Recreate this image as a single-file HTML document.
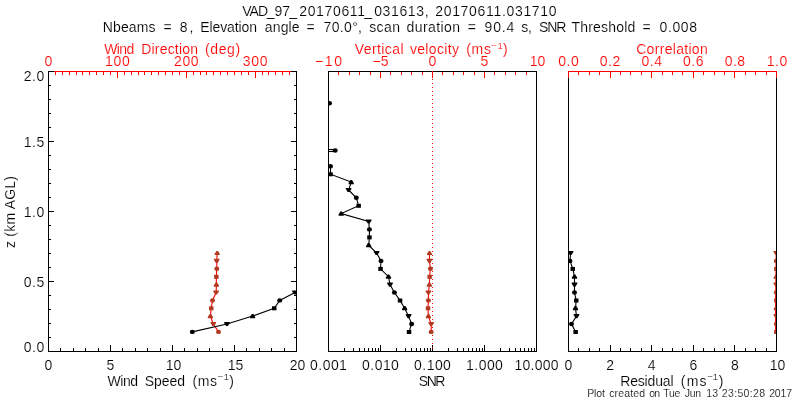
<!DOCTYPE html>
<html><head><meta charset="utf-8"><title>VAD plot</title>
<style>html,body{margin:0;padding:0;background:#fff;}svg{display:block}text{font-family:"Liberation Sans", sans-serif;stroke:#fff;stroke-width:0.15px;}</style>
</head><body>
<svg width="800" height="400" viewBox="0 0 800 400">
<defs>
<clipPath id="c1"><rect x="48" y="71" width="249" height="281"/></clipPath>
<clipPath id="c2"><rect x="328" y="71" width="209" height="281"/></clipPath>
<clipPath id="c3"><rect x="568" y="71" width="209" height="281"/></clipPath>
</defs>
<rect width="800" height="400" fill="#fff"/>
<rect x="48" y="71" width="1" height="281" fill="#000000" shape-rendering="crispEdges"/>
<rect x="296" y="71" width="1" height="281" fill="#000000" shape-rendering="crispEdges"/>
<rect x="48" y="351" width="249" height="1" fill="#000000" shape-rendering="crispEdges"/>
<rect x="48" y="71" width="249" height="1" fill="#ff0000" shape-rendering="crispEdges"/>
<rect x="48" y="72" width="1" height="6" fill="#ff0000" shape-rendering="crispEdges"/>
<rect x="55" y="72" width="1" height="3" fill="#ff0000" shape-rendering="crispEdges"/>
<rect x="62" y="72" width="1" height="3" fill="#ff0000" shape-rendering="crispEdges"/>
<rect x="69" y="72" width="1" height="3" fill="#ff0000" shape-rendering="crispEdges"/>
<rect x="76" y="72" width="1" height="3" fill="#ff0000" shape-rendering="crispEdges"/>
<rect x="82" y="72" width="1" height="3" fill="#ff0000" shape-rendering="crispEdges"/>
<rect x="89" y="72" width="1" height="3" fill="#ff0000" shape-rendering="crispEdges"/>
<rect x="96" y="72" width="1" height="3" fill="#ff0000" shape-rendering="crispEdges"/>
<rect x="103" y="72" width="1" height="3" fill="#ff0000" shape-rendering="crispEdges"/>
<rect x="110" y="72" width="1" height="3" fill="#ff0000" shape-rendering="crispEdges"/>
<rect x="117" y="72" width="1" height="6" fill="#ff0000" shape-rendering="crispEdges"/>
<rect x="124" y="72" width="1" height="3" fill="#ff0000" shape-rendering="crispEdges"/>
<rect x="131" y="72" width="1" height="3" fill="#ff0000" shape-rendering="crispEdges"/>
<rect x="138" y="72" width="1" height="3" fill="#ff0000" shape-rendering="crispEdges"/>
<rect x="144" y="72" width="1" height="3" fill="#ff0000" shape-rendering="crispEdges"/>
<rect x="151" y="72" width="1" height="3" fill="#ff0000" shape-rendering="crispEdges"/>
<rect x="158" y="72" width="1" height="3" fill="#ff0000" shape-rendering="crispEdges"/>
<rect x="165" y="72" width="1" height="3" fill="#ff0000" shape-rendering="crispEdges"/>
<rect x="172" y="72" width="1" height="3" fill="#ff0000" shape-rendering="crispEdges"/>
<rect x="179" y="72" width="1" height="3" fill="#ff0000" shape-rendering="crispEdges"/>
<rect x="186" y="72" width="1" height="6" fill="#ff0000" shape-rendering="crispEdges"/>
<rect x="193" y="72" width="1" height="3" fill="#ff0000" shape-rendering="crispEdges"/>
<rect x="200" y="72" width="1" height="3" fill="#ff0000" shape-rendering="crispEdges"/>
<rect x="206" y="72" width="1" height="3" fill="#ff0000" shape-rendering="crispEdges"/>
<rect x="213" y="72" width="1" height="3" fill="#ff0000" shape-rendering="crispEdges"/>
<rect x="220" y="72" width="1" height="3" fill="#ff0000" shape-rendering="crispEdges"/>
<rect x="227" y="72" width="1" height="3" fill="#ff0000" shape-rendering="crispEdges"/>
<rect x="234" y="72" width="1" height="3" fill="#ff0000" shape-rendering="crispEdges"/>
<rect x="241" y="72" width="1" height="3" fill="#ff0000" shape-rendering="crispEdges"/>
<rect x="248" y="72" width="1" height="3" fill="#ff0000" shape-rendering="crispEdges"/>
<rect x="255" y="72" width="1" height="6" fill="#ff0000" shape-rendering="crispEdges"/>
<rect x="262" y="72" width="1" height="3" fill="#ff0000" shape-rendering="crispEdges"/>
<rect x="268" y="72" width="1" height="3" fill="#ff0000" shape-rendering="crispEdges"/>
<rect x="275" y="72" width="1" height="3" fill="#ff0000" shape-rendering="crispEdges"/>
<rect x="282" y="72" width="1" height="3" fill="#ff0000" shape-rendering="crispEdges"/>
<rect x="289" y="72" width="1" height="3" fill="#ff0000" shape-rendering="crispEdges"/>
<rect x="296" y="72" width="1" height="3" fill="#ff0000" shape-rendering="crispEdges"/>
<rect x="48" y="345" width="1" height="6" fill="#000000" shape-rendering="crispEdges"/>
<rect x="60" y="348" width="1" height="3" fill="#000000" shape-rendering="crispEdges"/>
<rect x="73" y="348" width="1" height="3" fill="#000000" shape-rendering="crispEdges"/>
<rect x="85" y="348" width="1" height="3" fill="#000000" shape-rendering="crispEdges"/>
<rect x="98" y="348" width="1" height="3" fill="#000000" shape-rendering="crispEdges"/>
<rect x="110" y="345" width="1" height="6" fill="#000000" shape-rendering="crispEdges"/>
<rect x="122" y="348" width="1" height="3" fill="#000000" shape-rendering="crispEdges"/>
<rect x="135" y="348" width="1" height="3" fill="#000000" shape-rendering="crispEdges"/>
<rect x="147" y="348" width="1" height="3" fill="#000000" shape-rendering="crispEdges"/>
<rect x="160" y="348" width="1" height="3" fill="#000000" shape-rendering="crispEdges"/>
<rect x="172" y="345" width="1" height="6" fill="#000000" shape-rendering="crispEdges"/>
<rect x="184" y="348" width="1" height="3" fill="#000000" shape-rendering="crispEdges"/>
<rect x="197" y="348" width="1" height="3" fill="#000000" shape-rendering="crispEdges"/>
<rect x="209" y="348" width="1" height="3" fill="#000000" shape-rendering="crispEdges"/>
<rect x="222" y="348" width="1" height="3" fill="#000000" shape-rendering="crispEdges"/>
<rect x="234" y="345" width="1" height="6" fill="#000000" shape-rendering="crispEdges"/>
<rect x="246" y="348" width="1" height="3" fill="#000000" shape-rendering="crispEdges"/>
<rect x="259" y="348" width="1" height="3" fill="#000000" shape-rendering="crispEdges"/>
<rect x="271" y="348" width="1" height="3" fill="#000000" shape-rendering="crispEdges"/>
<rect x="284" y="348" width="1" height="3" fill="#000000" shape-rendering="crispEdges"/>
<rect x="296" y="345" width="1" height="6" fill="#000000" shape-rendering="crispEdges"/>
<rect x="49" y="351" width="5" height="1" fill="#000000" shape-rendering="crispEdges"/>
<rect x="291" y="351" width="5" height="1" fill="#000000" shape-rendering="crispEdges"/>
<rect x="49" y="337" width="2" height="1" fill="#000000" shape-rendering="crispEdges"/>
<rect x="294" y="337" width="2" height="1" fill="#000000" shape-rendering="crispEdges"/>
<rect x="49" y="323" width="2" height="1" fill="#000000" shape-rendering="crispEdges"/>
<rect x="294" y="323" width="2" height="1" fill="#000000" shape-rendering="crispEdges"/>
<rect x="49" y="309" width="2" height="1" fill="#000000" shape-rendering="crispEdges"/>
<rect x="294" y="309" width="2" height="1" fill="#000000" shape-rendering="crispEdges"/>
<rect x="49" y="295" width="2" height="1" fill="#000000" shape-rendering="crispEdges"/>
<rect x="294" y="295" width="2" height="1" fill="#000000" shape-rendering="crispEdges"/>
<rect x="49" y="281" width="5" height="1" fill="#000000" shape-rendering="crispEdges"/>
<rect x="291" y="281" width="5" height="1" fill="#000000" shape-rendering="crispEdges"/>
<rect x="49" y="267" width="2" height="1" fill="#000000" shape-rendering="crispEdges"/>
<rect x="294" y="267" width="2" height="1" fill="#000000" shape-rendering="crispEdges"/>
<rect x="49" y="253" width="2" height="1" fill="#000000" shape-rendering="crispEdges"/>
<rect x="294" y="253" width="2" height="1" fill="#000000" shape-rendering="crispEdges"/>
<rect x="49" y="239" width="2" height="1" fill="#000000" shape-rendering="crispEdges"/>
<rect x="294" y="239" width="2" height="1" fill="#000000" shape-rendering="crispEdges"/>
<rect x="49" y="225" width="2" height="1" fill="#000000" shape-rendering="crispEdges"/>
<rect x="294" y="225" width="2" height="1" fill="#000000" shape-rendering="crispEdges"/>
<rect x="49" y="211" width="5" height="1" fill="#000000" shape-rendering="crispEdges"/>
<rect x="291" y="211" width="5" height="1" fill="#000000" shape-rendering="crispEdges"/>
<rect x="49" y="197" width="2" height="1" fill="#000000" shape-rendering="crispEdges"/>
<rect x="294" y="197" width="2" height="1" fill="#000000" shape-rendering="crispEdges"/>
<rect x="49" y="183" width="2" height="1" fill="#000000" shape-rendering="crispEdges"/>
<rect x="294" y="183" width="2" height="1" fill="#000000" shape-rendering="crispEdges"/>
<rect x="49" y="169" width="2" height="1" fill="#000000" shape-rendering="crispEdges"/>
<rect x="294" y="169" width="2" height="1" fill="#000000" shape-rendering="crispEdges"/>
<rect x="49" y="155" width="2" height="1" fill="#000000" shape-rendering="crispEdges"/>
<rect x="294" y="155" width="2" height="1" fill="#000000" shape-rendering="crispEdges"/>
<rect x="49" y="141" width="5" height="1" fill="#000000" shape-rendering="crispEdges"/>
<rect x="291" y="141" width="5" height="1" fill="#000000" shape-rendering="crispEdges"/>
<rect x="49" y="127" width="2" height="1" fill="#000000" shape-rendering="crispEdges"/>
<rect x="294" y="127" width="2" height="1" fill="#000000" shape-rendering="crispEdges"/>
<rect x="49" y="113" width="2" height="1" fill="#000000" shape-rendering="crispEdges"/>
<rect x="294" y="113" width="2" height="1" fill="#000000" shape-rendering="crispEdges"/>
<rect x="49" y="99" width="2" height="1" fill="#000000" shape-rendering="crispEdges"/>
<rect x="294" y="99" width="2" height="1" fill="#000000" shape-rendering="crispEdges"/>
<rect x="49" y="85" width="2" height="1" fill="#000000" shape-rendering="crispEdges"/>
<rect x="294" y="85" width="2" height="1" fill="#000000" shape-rendering="crispEdges"/>
<rect x="49" y="71" width="5" height="1" fill="#000000" shape-rendering="crispEdges"/>
<rect x="291" y="71" width="5" height="1" fill="#000000" shape-rendering="crispEdges"/>
<rect x="48" y="71" width="1" height="281" fill="#000000" shape-rendering="crispEdges"/>
<rect x="296" y="71" width="1" height="281" fill="#000000" shape-rendering="crispEdges"/>
<rect x="328" y="71" width="1" height="281" fill="#000000" shape-rendering="crispEdges"/>
<rect x="536" y="71" width="1" height="281" fill="#000000" shape-rendering="crispEdges"/>
<rect x="328" y="351" width="209" height="1" fill="#000000" shape-rendering="crispEdges"/>
<rect x="328" y="71" width="209" height="1" fill="#000000" shape-rendering="crispEdges"/>
<rect x="328" y="72" width="1" height="6" fill="#ff0000" shape-rendering="crispEdges"/>
<rect x="338" y="72" width="1" height="3" fill="#ff0000" shape-rendering="crispEdges"/>
<rect x="349" y="72" width="1" height="3" fill="#ff0000" shape-rendering="crispEdges"/>
<rect x="359" y="72" width="1" height="3" fill="#ff0000" shape-rendering="crispEdges"/>
<rect x="370" y="72" width="1" height="3" fill="#ff0000" shape-rendering="crispEdges"/>
<rect x="380" y="72" width="1" height="6" fill="#ff0000" shape-rendering="crispEdges"/>
<rect x="390" y="72" width="1" height="3" fill="#ff0000" shape-rendering="crispEdges"/>
<rect x="401" y="72" width="1" height="3" fill="#ff0000" shape-rendering="crispEdges"/>
<rect x="411" y="72" width="1" height="3" fill="#ff0000" shape-rendering="crispEdges"/>
<rect x="422" y="72" width="1" height="3" fill="#ff0000" shape-rendering="crispEdges"/>
<rect x="432" y="72" width="1" height="6" fill="#ff0000" shape-rendering="crispEdges"/>
<rect x="442" y="72" width="1" height="3" fill="#ff0000" shape-rendering="crispEdges"/>
<rect x="453" y="72" width="1" height="3" fill="#ff0000" shape-rendering="crispEdges"/>
<rect x="463" y="72" width="1" height="3" fill="#ff0000" shape-rendering="crispEdges"/>
<rect x="474" y="72" width="1" height="3" fill="#ff0000" shape-rendering="crispEdges"/>
<rect x="484" y="72" width="1" height="6" fill="#ff0000" shape-rendering="crispEdges"/>
<rect x="494" y="72" width="1" height="3" fill="#ff0000" shape-rendering="crispEdges"/>
<rect x="505" y="72" width="1" height="3" fill="#ff0000" shape-rendering="crispEdges"/>
<rect x="515" y="72" width="1" height="3" fill="#ff0000" shape-rendering="crispEdges"/>
<rect x="526" y="72" width="1" height="3" fill="#ff0000" shape-rendering="crispEdges"/>
<rect x="536" y="72" width="1" height="6" fill="#ff0000" shape-rendering="crispEdges"/>
<rect x="328" y="71" width="209" height="1" fill="#000000" shape-rendering="crispEdges"/>
<rect x="328" y="345" width="1" height="6" fill="#000000" shape-rendering="crispEdges"/>
<rect x="344" y="348" width="1" height="3" fill="#000000" shape-rendering="crispEdges"/>
<rect x="353" y="348" width="1" height="3" fill="#000000" shape-rendering="crispEdges"/>
<rect x="359" y="348" width="1" height="3" fill="#000000" shape-rendering="crispEdges"/>
<rect x="364" y="348" width="1" height="3" fill="#000000" shape-rendering="crispEdges"/>
<rect x="368" y="348" width="1" height="3" fill="#000000" shape-rendering="crispEdges"/>
<rect x="372" y="348" width="1" height="3" fill="#000000" shape-rendering="crispEdges"/>
<rect x="375" y="348" width="1" height="3" fill="#000000" shape-rendering="crispEdges"/>
<rect x="378" y="348" width="1" height="3" fill="#000000" shape-rendering="crispEdges"/>
<rect x="380" y="345" width="1" height="6" fill="#000000" shape-rendering="crispEdges"/>
<rect x="396" y="348" width="1" height="3" fill="#000000" shape-rendering="crispEdges"/>
<rect x="405" y="348" width="1" height="3" fill="#000000" shape-rendering="crispEdges"/>
<rect x="411" y="348" width="1" height="3" fill="#000000" shape-rendering="crispEdges"/>
<rect x="416" y="348" width="1" height="3" fill="#000000" shape-rendering="crispEdges"/>
<rect x="420" y="348" width="1" height="3" fill="#000000" shape-rendering="crispEdges"/>
<rect x="424" y="348" width="1" height="3" fill="#000000" shape-rendering="crispEdges"/>
<rect x="427" y="348" width="1" height="3" fill="#000000" shape-rendering="crispEdges"/>
<rect x="430" y="348" width="1" height="3" fill="#000000" shape-rendering="crispEdges"/>
<rect x="432" y="345" width="1" height="6" fill="#000000" shape-rendering="crispEdges"/>
<rect x="448" y="348" width="1" height="3" fill="#000000" shape-rendering="crispEdges"/>
<rect x="457" y="348" width="1" height="3" fill="#000000" shape-rendering="crispEdges"/>
<rect x="463" y="348" width="1" height="3" fill="#000000" shape-rendering="crispEdges"/>
<rect x="468" y="348" width="1" height="3" fill="#000000" shape-rendering="crispEdges"/>
<rect x="472" y="348" width="1" height="3" fill="#000000" shape-rendering="crispEdges"/>
<rect x="476" y="348" width="1" height="3" fill="#000000" shape-rendering="crispEdges"/>
<rect x="479" y="348" width="1" height="3" fill="#000000" shape-rendering="crispEdges"/>
<rect x="482" y="348" width="1" height="3" fill="#000000" shape-rendering="crispEdges"/>
<rect x="484" y="345" width="1" height="6" fill="#000000" shape-rendering="crispEdges"/>
<rect x="500" y="348" width="1" height="3" fill="#000000" shape-rendering="crispEdges"/>
<rect x="509" y="348" width="1" height="3" fill="#000000" shape-rendering="crispEdges"/>
<rect x="515" y="348" width="1" height="3" fill="#000000" shape-rendering="crispEdges"/>
<rect x="520" y="348" width="1" height="3" fill="#000000" shape-rendering="crispEdges"/>
<rect x="524" y="348" width="1" height="3" fill="#000000" shape-rendering="crispEdges"/>
<rect x="528" y="348" width="1" height="3" fill="#000000" shape-rendering="crispEdges"/>
<rect x="531" y="348" width="1" height="3" fill="#000000" shape-rendering="crispEdges"/>
<rect x="534" y="348" width="1" height="3" fill="#000000" shape-rendering="crispEdges"/>
<rect x="536" y="345" width="1" height="6" fill="#000000" shape-rendering="crispEdges"/>
<rect x="328" y="71" width="1" height="281" fill="#000000" shape-rendering="crispEdges"/>
<rect x="536" y="71" width="1" height="281" fill="#000000" shape-rendering="crispEdges"/>
<rect x="432" y="71" width="1" height="1" fill="#ff0000" shape-rendering="crispEdges"/>
<rect x="432" y="75" width="1" height="1" fill="#ff0000" shape-rendering="crispEdges"/>
<rect x="432" y="79" width="1" height="1" fill="#ff0000" shape-rendering="crispEdges"/>
<rect x="432" y="83" width="1" height="1" fill="#ff0000" shape-rendering="crispEdges"/>
<rect x="432" y="87" width="1" height="1" fill="#ff0000" shape-rendering="crispEdges"/>
<rect x="432" y="91" width="1" height="1" fill="#ff0000" shape-rendering="crispEdges"/>
<rect x="432" y="95" width="1" height="1" fill="#ff0000" shape-rendering="crispEdges"/>
<rect x="432" y="99" width="1" height="1" fill="#ff0000" shape-rendering="crispEdges"/>
<rect x="432" y="103" width="1" height="1" fill="#ff0000" shape-rendering="crispEdges"/>
<rect x="432" y="107" width="1" height="1" fill="#ff0000" shape-rendering="crispEdges"/>
<rect x="432" y="111" width="1" height="1" fill="#ff0000" shape-rendering="crispEdges"/>
<rect x="432" y="115" width="1" height="1" fill="#ff0000" shape-rendering="crispEdges"/>
<rect x="432" y="119" width="1" height="1" fill="#ff0000" shape-rendering="crispEdges"/>
<rect x="432" y="123" width="1" height="1" fill="#ff0000" shape-rendering="crispEdges"/>
<rect x="432" y="127" width="1" height="1" fill="#ff0000" shape-rendering="crispEdges"/>
<rect x="432" y="131" width="1" height="1" fill="#ff0000" shape-rendering="crispEdges"/>
<rect x="432" y="135" width="1" height="1" fill="#ff0000" shape-rendering="crispEdges"/>
<rect x="432" y="139" width="1" height="1" fill="#ff0000" shape-rendering="crispEdges"/>
<rect x="432" y="143" width="1" height="1" fill="#ff0000" shape-rendering="crispEdges"/>
<rect x="432" y="147" width="1" height="1" fill="#ff0000" shape-rendering="crispEdges"/>
<rect x="432" y="151" width="1" height="1" fill="#ff0000" shape-rendering="crispEdges"/>
<rect x="432" y="155" width="1" height="1" fill="#ff0000" shape-rendering="crispEdges"/>
<rect x="432" y="159" width="1" height="1" fill="#ff0000" shape-rendering="crispEdges"/>
<rect x="432" y="163" width="1" height="1" fill="#ff0000" shape-rendering="crispEdges"/>
<rect x="432" y="167" width="1" height="1" fill="#ff0000" shape-rendering="crispEdges"/>
<rect x="432" y="171" width="1" height="1" fill="#ff0000" shape-rendering="crispEdges"/>
<rect x="432" y="175" width="1" height="1" fill="#ff0000" shape-rendering="crispEdges"/>
<rect x="432" y="179" width="1" height="1" fill="#ff0000" shape-rendering="crispEdges"/>
<rect x="432" y="183" width="1" height="1" fill="#ff0000" shape-rendering="crispEdges"/>
<rect x="432" y="187" width="1" height="1" fill="#ff0000" shape-rendering="crispEdges"/>
<rect x="432" y="191" width="1" height="1" fill="#ff0000" shape-rendering="crispEdges"/>
<rect x="432" y="195" width="1" height="1" fill="#ff0000" shape-rendering="crispEdges"/>
<rect x="432" y="199" width="1" height="1" fill="#ff0000" shape-rendering="crispEdges"/>
<rect x="432" y="203" width="1" height="1" fill="#ff0000" shape-rendering="crispEdges"/>
<rect x="432" y="207" width="1" height="1" fill="#ff0000" shape-rendering="crispEdges"/>
<rect x="432" y="211" width="1" height="1" fill="#ff0000" shape-rendering="crispEdges"/>
<rect x="432" y="215" width="1" height="1" fill="#ff0000" shape-rendering="crispEdges"/>
<rect x="432" y="219" width="1" height="1" fill="#ff0000" shape-rendering="crispEdges"/>
<rect x="432" y="223" width="1" height="1" fill="#ff0000" shape-rendering="crispEdges"/>
<rect x="432" y="227" width="1" height="1" fill="#ff0000" shape-rendering="crispEdges"/>
<rect x="432" y="231" width="1" height="1" fill="#ff0000" shape-rendering="crispEdges"/>
<rect x="432" y="235" width="1" height="1" fill="#ff0000" shape-rendering="crispEdges"/>
<rect x="432" y="239" width="1" height="1" fill="#ff0000" shape-rendering="crispEdges"/>
<rect x="432" y="243" width="1" height="1" fill="#ff0000" shape-rendering="crispEdges"/>
<rect x="432" y="247" width="1" height="1" fill="#ff0000" shape-rendering="crispEdges"/>
<rect x="432" y="251" width="1" height="1" fill="#ff0000" shape-rendering="crispEdges"/>
<rect x="432" y="255" width="1" height="1" fill="#ff0000" shape-rendering="crispEdges"/>
<rect x="432" y="259" width="1" height="1" fill="#ff0000" shape-rendering="crispEdges"/>
<rect x="432" y="263" width="1" height="1" fill="#ff0000" shape-rendering="crispEdges"/>
<rect x="432" y="267" width="1" height="1" fill="#ff0000" shape-rendering="crispEdges"/>
<rect x="432" y="271" width="1" height="1" fill="#ff0000" shape-rendering="crispEdges"/>
<rect x="432" y="275" width="1" height="1" fill="#ff0000" shape-rendering="crispEdges"/>
<rect x="432" y="279" width="1" height="1" fill="#ff0000" shape-rendering="crispEdges"/>
<rect x="432" y="283" width="1" height="1" fill="#ff0000" shape-rendering="crispEdges"/>
<rect x="432" y="287" width="1" height="1" fill="#ff0000" shape-rendering="crispEdges"/>
<rect x="432" y="291" width="1" height="1" fill="#ff0000" shape-rendering="crispEdges"/>
<rect x="432" y="295" width="1" height="1" fill="#ff0000" shape-rendering="crispEdges"/>
<rect x="432" y="299" width="1" height="1" fill="#ff0000" shape-rendering="crispEdges"/>
<rect x="432" y="303" width="1" height="1" fill="#ff0000" shape-rendering="crispEdges"/>
<rect x="432" y="307" width="1" height="1" fill="#ff0000" shape-rendering="crispEdges"/>
<rect x="432" y="311" width="1" height="1" fill="#ff0000" shape-rendering="crispEdges"/>
<rect x="432" y="315" width="1" height="1" fill="#ff0000" shape-rendering="crispEdges"/>
<rect x="432" y="319" width="1" height="1" fill="#ff0000" shape-rendering="crispEdges"/>
<rect x="432" y="323" width="1" height="1" fill="#ff0000" shape-rendering="crispEdges"/>
<rect x="432" y="327" width="1" height="1" fill="#ff0000" shape-rendering="crispEdges"/>
<rect x="432" y="331" width="1" height="1" fill="#ff0000" shape-rendering="crispEdges"/>
<rect x="432" y="335" width="1" height="1" fill="#ff0000" shape-rendering="crispEdges"/>
<rect x="432" y="339" width="1" height="1" fill="#ff0000" shape-rendering="crispEdges"/>
<rect x="432" y="343" width="1" height="1" fill="#ff0000" shape-rendering="crispEdges"/>
<rect x="432" y="347" width="1" height="1" fill="#ff0000" shape-rendering="crispEdges"/>
<rect x="568" y="71" width="1" height="281" fill="#000000" shape-rendering="crispEdges"/>
<rect x="776" y="71" width="1" height="281" fill="#000000" shape-rendering="crispEdges"/>
<rect x="568" y="351" width="209" height="1" fill="#000000" shape-rendering="crispEdges"/>
<rect x="568" y="71" width="209" height="1" fill="#ff0000" shape-rendering="crispEdges"/>
<rect x="568" y="72" width="1" height="6" fill="#ff0000" shape-rendering="crispEdges"/>
<rect x="568" y="345" width="1" height="6" fill="#000000" shape-rendering="crispEdges"/>
<rect x="578" y="72" width="1" height="3" fill="#ff0000" shape-rendering="crispEdges"/>
<rect x="578" y="348" width="1" height="3" fill="#000000" shape-rendering="crispEdges"/>
<rect x="589" y="72" width="1" height="3" fill="#ff0000" shape-rendering="crispEdges"/>
<rect x="589" y="348" width="1" height="3" fill="#000000" shape-rendering="crispEdges"/>
<rect x="599" y="72" width="1" height="3" fill="#ff0000" shape-rendering="crispEdges"/>
<rect x="599" y="348" width="1" height="3" fill="#000000" shape-rendering="crispEdges"/>
<rect x="610" y="72" width="1" height="6" fill="#ff0000" shape-rendering="crispEdges"/>
<rect x="610" y="345" width="1" height="6" fill="#000000" shape-rendering="crispEdges"/>
<rect x="620" y="72" width="1" height="3" fill="#ff0000" shape-rendering="crispEdges"/>
<rect x="620" y="348" width="1" height="3" fill="#000000" shape-rendering="crispEdges"/>
<rect x="630" y="72" width="1" height="3" fill="#ff0000" shape-rendering="crispEdges"/>
<rect x="630" y="348" width="1" height="3" fill="#000000" shape-rendering="crispEdges"/>
<rect x="641" y="72" width="1" height="3" fill="#ff0000" shape-rendering="crispEdges"/>
<rect x="641" y="348" width="1" height="3" fill="#000000" shape-rendering="crispEdges"/>
<rect x="651" y="72" width="1" height="6" fill="#ff0000" shape-rendering="crispEdges"/>
<rect x="651" y="345" width="1" height="6" fill="#000000" shape-rendering="crispEdges"/>
<rect x="662" y="72" width="1" height="3" fill="#ff0000" shape-rendering="crispEdges"/>
<rect x="662" y="348" width="1" height="3" fill="#000000" shape-rendering="crispEdges"/>
<rect x="672" y="72" width="1" height="3" fill="#ff0000" shape-rendering="crispEdges"/>
<rect x="672" y="348" width="1" height="3" fill="#000000" shape-rendering="crispEdges"/>
<rect x="682" y="72" width="1" height="3" fill="#ff0000" shape-rendering="crispEdges"/>
<rect x="682" y="348" width="1" height="3" fill="#000000" shape-rendering="crispEdges"/>
<rect x="693" y="72" width="1" height="6" fill="#ff0000" shape-rendering="crispEdges"/>
<rect x="693" y="345" width="1" height="6" fill="#000000" shape-rendering="crispEdges"/>
<rect x="703" y="72" width="1" height="3" fill="#ff0000" shape-rendering="crispEdges"/>
<rect x="703" y="348" width="1" height="3" fill="#000000" shape-rendering="crispEdges"/>
<rect x="714" y="72" width="1" height="3" fill="#ff0000" shape-rendering="crispEdges"/>
<rect x="714" y="348" width="1" height="3" fill="#000000" shape-rendering="crispEdges"/>
<rect x="724" y="72" width="1" height="3" fill="#ff0000" shape-rendering="crispEdges"/>
<rect x="724" y="348" width="1" height="3" fill="#000000" shape-rendering="crispEdges"/>
<rect x="734" y="72" width="1" height="6" fill="#ff0000" shape-rendering="crispEdges"/>
<rect x="734" y="345" width="1" height="6" fill="#000000" shape-rendering="crispEdges"/>
<rect x="745" y="72" width="1" height="3" fill="#ff0000" shape-rendering="crispEdges"/>
<rect x="745" y="348" width="1" height="3" fill="#000000" shape-rendering="crispEdges"/>
<rect x="755" y="72" width="1" height="3" fill="#ff0000" shape-rendering="crispEdges"/>
<rect x="755" y="348" width="1" height="3" fill="#000000" shape-rendering="crispEdges"/>
<rect x="766" y="72" width="1" height="3" fill="#ff0000" shape-rendering="crispEdges"/>
<rect x="766" y="348" width="1" height="3" fill="#000000" shape-rendering="crispEdges"/>
<rect x="776" y="72" width="1" height="6" fill="#ff0000" shape-rendering="crispEdges"/>
<rect x="776" y="345" width="1" height="6" fill="#000000" shape-rendering="crispEdges"/>
<rect x="568" y="71" width="1" height="7" fill="#ff0000" shape-rendering="crispEdges"/>
<rect x="776" y="71" width="1" height="7" fill="#ff0000" shape-rendering="crispEdges"/>
<polyline points="218.5,331.9 213.3,324.0 210.4,316.1 211.2,308.2 212.5,300.4 216.1,292.5 216.4,284.6 216.3,276.7 216.8,268.8 216.8,260.9 217.2,253.0" fill="none" stroke="#ff0000" stroke-width="1.1" clip-path="url(#c1)"/>
<ellipse cx="218.5" cy="331.9" rx="2.5" ry="2.2" fill="#b23a22" clip-path="url(#c1)"/>
<path d="M210.5 321.9h5.6v1l-1.9 3.2h-1.8l-1.9 -3.2z" fill="#b23a22" clip-path="url(#c1)"/>
<path d="M207.8 318.2h5.2v-1.2l-1.8 -3h-1.6l-1.8 3z" fill="#b23a22" clip-path="url(#c1)"/>
<rect x="209.0" y="306.3" width="4.5" height="4" fill="#b23a22" clip-path="url(#c1)"/>
<ellipse cx="212.5" cy="300.4" rx="2.5" ry="2.2" fill="#b23a22" clip-path="url(#c1)"/>
<path d="M213.3 290.4h5.6v1l-1.9 3.2h-1.8l-1.9 -3.2z" fill="#b23a22" clip-path="url(#c1)"/>
<path d="M213.8 286.7h5.2v-1.2l-1.8 -3h-1.6l-1.8 3z" fill="#b23a22" clip-path="url(#c1)"/>
<rect x="214.1" y="274.8" width="4.5" height="4" fill="#b23a22" clip-path="url(#c1)"/>
<ellipse cx="216.8" cy="268.8" rx="2.5" ry="2.2" fill="#b23a22" clip-path="url(#c1)"/>
<path d="M213.9 258.8h5.6v1l-1.9 3.2h-1.8l-1.9 -3.2z" fill="#b23a22" clip-path="url(#c1)"/>
<path d="M214.6 255.1h5.2v-1.2l-1.8 -3h-1.6l-1.8 3z" fill="#b23a22" clip-path="url(#c1)"/>
<polyline points="192.3,331.9 227.0,324.0 252.6,316.1 274.2,308.2 279.7,300.4 295.0,292.5 310.0,284.6" fill="none" stroke="#000000" stroke-width="1.1" clip-path="url(#c1)"/>
<ellipse cx="192.3" cy="331.9" rx="2.5" ry="2.2" fill="#000000" clip-path="url(#c1)"/>
<path d="M224.2 321.9h5.6v1l-1.9 3.2h-1.8l-1.9 -3.2z" fill="#000000" clip-path="url(#c1)"/>
<path d="M250.0 318.2h5.2v-1.2l-1.8 -3h-1.6l-1.8 3z" fill="#000000" clip-path="url(#c1)"/>
<rect x="272.0" y="306.3" width="4.5" height="4" fill="#000000" clip-path="url(#c1)"/>
<ellipse cx="279.7" cy="300.4" rx="2.5" ry="2.2" fill="#000000" clip-path="url(#c1)"/>
<path d="M292.2 290.4h5.6v1l-1.9 3.2h-1.8l-1.9 -3.2z" fill="#000000" clip-path="url(#c1)"/>
<polyline points="409.0,331.9 411.6,324.0 408.6,316.1 404.6,308.2 400.0,300.4 394.4,292.5 390.0,284.6 388.5,276.7 380.5,268.8 381.0,260.9 376.6,253.0 368.7,245.2 369.4,237.3 369.4,229.4 368.7,221.5 341.2,213.6 358.6,205.7 356.3,197.8 348.6,190.0 351.2,182.1 330.5,174.2 330.5,166.3" fill="none" stroke="#000000" stroke-width="1.1" clip-path="url(#c2)"/>
<rect x="406.8" y="330.0" width="4.5" height="4" fill="#000000" clip-path="url(#c2)"/>
<ellipse cx="411.6" cy="324.0" rx="2.5" ry="2.2" fill="#000000" clip-path="url(#c2)"/>
<path d="M405.8 314.0h5.6v1l-1.9 3.2h-1.8l-1.9 -3.2z" fill="#000000" clip-path="url(#c2)"/>
<path d="M402.0 310.3h5.2v-1.2l-1.8 -3h-1.6l-1.8 3z" fill="#000000" clip-path="url(#c2)"/>
<rect x="397.8" y="298.5" width="4.5" height="4" fill="#000000" clip-path="url(#c2)"/>
<ellipse cx="394.4" cy="292.5" rx="2.5" ry="2.2" fill="#000000" clip-path="url(#c2)"/>
<path d="M387.2 282.5h5.6v1l-1.9 3.2h-1.8l-1.9 -3.2z" fill="#000000" clip-path="url(#c2)"/>
<path d="M385.9 278.8h5.2v-1.2l-1.8 -3h-1.6l-1.8 3z" fill="#000000" clip-path="url(#c2)"/>
<rect x="378.3" y="266.9" width="4.5" height="4" fill="#000000" clip-path="url(#c2)"/>
<ellipse cx="381.0" cy="260.9" rx="2.5" ry="2.2" fill="#000000" clip-path="url(#c2)"/>
<path d="M373.8 250.9h5.6v1l-1.9 3.2h-1.8l-1.9 -3.2z" fill="#000000" clip-path="url(#c2)"/>
<path d="M366.1 247.3h5.2v-1.2l-1.8 -3h-1.6l-1.8 3z" fill="#000000" clip-path="url(#c2)"/>
<rect x="367.2" y="235.4" width="4.5" height="4" fill="#000000" clip-path="url(#c2)"/>
<ellipse cx="369.4" cy="229.4" rx="2.5" ry="2.2" fill="#000000" clip-path="url(#c2)"/>
<path d="M365.9 219.4h5.6v1l-1.9 3.2h-1.8l-1.9 -3.2z" fill="#000000" clip-path="url(#c2)"/>
<path d="M338.6 215.7h5.2v-1.2l-1.8 -3h-1.6l-1.8 3z" fill="#000000" clip-path="url(#c2)"/>
<rect x="356.4" y="203.8" width="4.5" height="4" fill="#000000" clip-path="url(#c2)"/>
<ellipse cx="356.3" cy="197.8" rx="2.5" ry="2.2" fill="#000000" clip-path="url(#c2)"/>
<path d="M345.8 187.9h5.6v1l-1.9 3.2h-1.8l-1.9 -3.2z" fill="#000000" clip-path="url(#c2)"/>
<path d="M348.6 184.2h5.2v-1.2l-1.8 -3h-1.6l-1.8 3z" fill="#000000" clip-path="url(#c2)"/>
<rect x="328.3" y="172.3" width="4.5" height="4" fill="#000000" clip-path="url(#c2)"/>
<ellipse cx="330.5" cy="166.3" rx="2.5" ry="2.2" fill="#000000" clip-path="url(#c2)"/>
<polyline points="328.0,149.5 334.0,149.5" fill="none" stroke="#000000" stroke-width="1.1" clip-path="url(#c2)"/>
<polyline points="328.0,151.5 334.0,151.5" fill="none" stroke="#000000" stroke-width="1.1" clip-path="url(#c2)"/>
<ellipse cx="335.2" cy="150.5" rx="2.5" ry="2.2" fill="#000000" clip-path="url(#c2)"/>
<ellipse cx="329.5" cy="103.2" rx="2.5" ry="2.2" fill="#000000" clip-path="url(#c2)"/>
<polyline points="431.2,331.9 431.2,324.0 428.4,316.1 428.0,308.2 428.4,300.4 428.4,292.5 429.4,284.6 429.6,276.7 430.4,268.8 429.4,260.9 429.5,253.0" fill="none" stroke="#ff0000" stroke-width="1.1" clip-path="url(#c2)"/>
<ellipse cx="431.2" cy="331.9" rx="2.5" ry="2.2" fill="#b23a22" clip-path="url(#c2)"/>
<path d="M428.4 321.9h5.6v1l-1.9 3.2h-1.8l-1.9 -3.2z" fill="#b23a22" clip-path="url(#c2)"/>
<path d="M425.8 318.2h5.2v-1.2l-1.8 -3h-1.6l-1.8 3z" fill="#b23a22" clip-path="url(#c2)"/>
<rect x="425.8" y="306.3" width="4.5" height="4" fill="#b23a22" clip-path="url(#c2)"/>
<ellipse cx="428.4" cy="300.4" rx="2.5" ry="2.2" fill="#b23a22" clip-path="url(#c2)"/>
<path d="M425.6 290.4h5.6v1l-1.9 3.2h-1.8l-1.9 -3.2z" fill="#b23a22" clip-path="url(#c2)"/>
<path d="M426.8 286.7h5.2v-1.2l-1.8 -3h-1.6l-1.8 3z" fill="#b23a22" clip-path="url(#c2)"/>
<rect x="427.4" y="274.8" width="4.5" height="4" fill="#b23a22" clip-path="url(#c2)"/>
<ellipse cx="430.4" cy="268.8" rx="2.5" ry="2.2" fill="#b23a22" clip-path="url(#c2)"/>
<path d="M426.6 258.8h5.6v1l-1.9 3.2h-1.8l-1.9 -3.2z" fill="#b23a22" clip-path="url(#c2)"/>
<path d="M426.9 255.1h5.2v-1.2l-1.8 -3h-1.6l-1.8 3z" fill="#b23a22" clip-path="url(#c2)"/>
<polyline points="575.6,331.9 571.5,324.0 576.5,316.1 575.5,308.2 576.2,300.4 574.5,292.5 574.5,284.6 574.5,276.7 572.8,268.8 570.0,260.9 570.6,253.0" fill="none" stroke="#000000" stroke-width="1.1" clip-path="url(#c3)"/>
<rect x="573.4" y="330.0" width="4.5" height="4" fill="#000000" clip-path="url(#c3)"/>
<ellipse cx="571.5" cy="324.0" rx="2.5" ry="2.2" fill="#000000" clip-path="url(#c3)"/>
<path d="M573.7 314.0h5.6v1l-1.9 3.2h-1.8l-1.9 -3.2z" fill="#000000" clip-path="url(#c3)"/>
<path d="M572.9 310.3h5.2v-1.2l-1.8 -3h-1.6l-1.8 3z" fill="#000000" clip-path="url(#c3)"/>
<rect x="574.0" y="298.5" width="4.5" height="4" fill="#000000" clip-path="url(#c3)"/>
<ellipse cx="574.5" cy="292.5" rx="2.5" ry="2.2" fill="#000000" clip-path="url(#c3)"/>
<path d="M571.7 282.5h5.6v1l-1.9 3.2h-1.8l-1.9 -3.2z" fill="#000000" clip-path="url(#c3)"/>
<path d="M571.9 278.8h5.2v-1.2l-1.8 -3h-1.6l-1.8 3z" fill="#000000" clip-path="url(#c3)"/>
<rect x="570.5" y="266.9" width="4.5" height="4" fill="#000000" clip-path="url(#c3)"/>
<ellipse cx="570.0" cy="260.9" rx="2.5" ry="2.2" fill="#000000" clip-path="url(#c3)"/>
<path d="M567.8 250.9h5.6v1l-1.9 3.2h-1.8l-1.9 -3.2z" fill="#000000" clip-path="url(#c3)"/>
<polyline points="775.6,331.9 775.6,300.4 776.2,253.0" fill="none" stroke="#ff0000" stroke-width="1.1" clip-path="url(#c3)"/>
<rect x="774.1" y="330.0" width="4.5" height="4" fill="#b23a22" clip-path="url(#c3)"/>
<ellipse cx="776.3" cy="324.0" rx="2.5" ry="2.2" fill="#b23a22" clip-path="url(#c3)"/>
<path d="M773.5 314.0h5.6v1l-1.9 3.2h-1.8l-1.9 -3.2z" fill="#b23a22" clip-path="url(#c3)"/>
<path d="M773.7 310.3h5.2v-1.2l-1.8 -3h-1.6l-1.8 3z" fill="#b23a22" clip-path="url(#c3)"/>
<rect x="774.1" y="298.5" width="4.5" height="4" fill="#b23a22" clip-path="url(#c3)"/>
<ellipse cx="776.3" cy="292.5" rx="2.5" ry="2.2" fill="#b23a22" clip-path="url(#c3)"/>
<path d="M773.5 282.5h5.6v1l-1.9 3.2h-1.8l-1.9 -3.2z" fill="#b23a22" clip-path="url(#c3)"/>
<path d="M773.7 278.8h5.2v-1.2l-1.8 -3h-1.6l-1.8 3z" fill="#b23a22" clip-path="url(#c3)"/>
<rect x="774.1" y="266.9" width="4.5" height="4" fill="#b23a22" clip-path="url(#c3)"/>
<ellipse cx="776.3" cy="260.9" rx="2.5" ry="2.2" fill="#b23a22" clip-path="url(#c3)"/>
<path d="M773.5 250.9h5.6v1l-1.9 3.2h-1.8l-1.9 -3.2z" fill="#b23a22" clip-path="url(#c3)"/>
<rect x="776" y="78" width="1" height="274" fill="#000000" shape-rendering="crispEdges"/>
<rect x="296" y="71" width="1" height="281" fill="#000000" shape-rendering="crispEdges"/>
<rect x="328" y="71" width="1" height="281" fill="#000000" shape-rendering="crispEdges"/>
<text x="242.2" y="15.7" fill="#000000" font-size="14" text-anchor="start" textLength="25.8" lengthAdjust="spacing">VAD</text>
<text x="266.8" y="15.7" fill="#000000" font-size="14" text-anchor="start" textLength="9.2" lengthAdjust="spacing">_</text>
<text x="274.6" y="15.7" fill="#000000" font-size="14" text-anchor="start" textLength="15.4" lengthAdjust="spacing">97</text>
<text x="289.2" y="15.7" fill="#000000" font-size="14" text-anchor="start" textLength="11.3" lengthAdjust="spacing">_</text>
<text x="299.2" y="15.7" fill="#000000" font-size="14" text-anchor="start" textLength="65.8" lengthAdjust="spacing">20170611</text>
<text x="364.2" y="15.7" fill="#000000" font-size="14" text-anchor="start" textLength="11.3" lengthAdjust="spacing">_</text>
<text x="374.2" y="15.7" fill="#000000" font-size="14" text-anchor="start" textLength="54.4" lengthAdjust="spacing">031613,</text>
<text x="435.2" y="15.7" fill="#000000" font-size="14" text-anchor="start" textLength="121.4" lengthAdjust="spacing">20170611.031710</text>
<text x="102.8" y="31.7" fill="#000000" font-size="14" text-anchor="start" textLength="52.6" lengthAdjust="spacing">Nbeams</text>
<text x="163.6" y="31.7" fill="#000000" font-size="14" text-anchor="start" textLength="9.8" lengthAdjust="spacing">=</text>
<text x="179.8" y="31.7" fill="#000000" font-size="14" text-anchor="start" textLength="13.6" lengthAdjust="spacing">8,</text>
<text x="200.2" y="31.7" fill="#000000" font-size="14" text-anchor="start" textLength="56.8" lengthAdjust="spacing">Elevation</text>
<text x="264.8" y="31.7" fill="#000000" font-size="14" text-anchor="start" textLength="34.8" lengthAdjust="spacing">angle</text>
<text x="306.6" y="31.7" fill="#000000" font-size="14" text-anchor="start" textLength="9.8" lengthAdjust="spacing">=</text>
<text x="323.6" y="31.7" fill="#000000" font-size="14" text-anchor="start" textLength="38.4" lengthAdjust="spacing">70.0°,</text>
<text x="369.2" y="31.7" fill="#000000" font-size="14" text-anchor="start" textLength="30.8" lengthAdjust="spacing">scan</text>
<text x="406.6" y="31.7" fill="#000000" font-size="14" text-anchor="start" textLength="53.4" lengthAdjust="spacing">duration</text>
<text x="467.8" y="31.7" fill="#000000" font-size="14" text-anchor="start" textLength="9.8" lengthAdjust="spacing">=</text>
<text x="484.6" y="31.7" fill="#000000" font-size="14" text-anchor="start" textLength="29.8" lengthAdjust="spacing">90.4</text>
<text x="521.2" y="31.7" fill="#000000" font-size="14" text-anchor="start" textLength="10.8" lengthAdjust="spacing">s,</text>
<text x="538.9" y="31.7" fill="#000000" font-size="14" text-anchor="start" textLength="27.5" lengthAdjust="spacing">SNR</text>
<text x="571.4" y="31.7" fill="#000000" font-size="14" text-anchor="start" textLength="64.0" lengthAdjust="spacing">Threshold</text>
<text x="642.6" y="31.7" fill="#000000" font-size="14" text-anchor="start" textLength="9.8" lengthAdjust="spacing">=</text>
<text x="659.6" y="31.7" fill="#000000" font-size="14" text-anchor="start" textLength="37.4" lengthAdjust="spacing">0.008</text>
<text x="104.2" y="54" fill="#ff0000" font-size="14" text-anchor="start" textLength="30.1" lengthAdjust="spacing">Wind</text>
<text x="141.2" y="54" fill="#ff0000" font-size="14" text-anchor="start" textLength="56.8" lengthAdjust="spacing">Direction</text>
<text x="204.9" y="54" fill="#ff0000" font-size="14" text-anchor="start" textLength="35.3" lengthAdjust="spacing">(deg)</text>
<text x="354.7" y="54" fill="#ff0000" font-size="14" text-anchor="start" textLength="48.8" lengthAdjust="spacing">Vertical</text>
<text x="409.9" y="54" fill="#ff0000" font-size="14" text-anchor="start" textLength="49.0" lengthAdjust="spacing">velocity</text>
<text x="466.2" y="54" fill="#ff0000" font-size="14" text-anchor="start" textLength="24.8" lengthAdjust="spacing">(ms</text>
<text x="502.9" y="54" fill="#ff0000" font-size="14" text-anchor="start" textLength="6.8" lengthAdjust="spacing">)</text>
<text x="491.2" y="48.5" fill="#ff0000" font-size="9.5" text-anchor="start" textLength="11.6" lengthAdjust="spacing">−1</text>
<text x="636.2" y="54" fill="#ff0000" font-size="14" text-anchor="start" textLength="71.5" lengthAdjust="spacing">Correlation</text>
<text x="48.5" y="66" fill="#ff0000" font-size="14" text-anchor="middle">0</text>
<text x="117.38888888888889" y="66" fill="#ff0000" font-size="14" text-anchor="middle" textLength="24.6" lengthAdjust="spacing">100</text>
<text x="186.27777777777777" y="66" fill="#ff0000" font-size="14" text-anchor="middle" textLength="24.6" lengthAdjust="spacing">200</text>
<text x="255.16666666666666" y="66" fill="#ff0000" font-size="14" text-anchor="middle" textLength="24.6" lengthAdjust="spacing">300</text>
<text x="328.5" y="66" fill="#ff0000" font-size="14" text-anchor="middle" textLength="27" lengthAdjust="spacing">−10</text>
<text x="380.5" y="66" fill="#ff0000" font-size="14" text-anchor="middle">−5</text>
<text x="432.5" y="66" fill="#ff0000" font-size="14" text-anchor="middle">0</text>
<text x="484.5" y="66" fill="#ff0000" font-size="14" text-anchor="middle">5</text>
<text x="537.5" y="66" fill="#ff0000" font-size="14" text-anchor="middle">10</text>
<text x="568.5" y="66" fill="#ff0000" font-size="14" text-anchor="middle" textLength="20.5" lengthAdjust="spacing">0.0</text>
<text x="610.1" y="66" fill="#ff0000" font-size="14" text-anchor="middle" textLength="20.5" lengthAdjust="spacing">0.2</text>
<text x="651.7" y="66" fill="#ff0000" font-size="14" text-anchor="middle" textLength="20.5" lengthAdjust="spacing">0.4</text>
<text x="693.3" y="66" fill="#ff0000" font-size="14" text-anchor="middle" textLength="20.5" lengthAdjust="spacing">0.6</text>
<text x="734.9" y="66" fill="#ff0000" font-size="14" text-anchor="middle" textLength="20.5" lengthAdjust="spacing">0.8</text>
<text x="777.0" y="66" fill="#ff0000" font-size="14" text-anchor="middle" textLength="20.5" lengthAdjust="spacing">1.0</text>
<text x="48.5" y="369.5" fill="#000000" font-size="14" text-anchor="middle">0</text>
<text x="110.5" y="369.5" fill="#000000" font-size="14" text-anchor="middle">5</text>
<text x="173.5" y="369.5" fill="#000000" font-size="14" text-anchor="middle">10</text>
<text x="235.5" y="369.5" fill="#000000" font-size="14" text-anchor="middle">15</text>
<text x="297.5" y="369.5" fill="#000000" font-size="14" text-anchor="middle">20</text>
<text x="328.5" y="369.5" fill="#000000" font-size="14" text-anchor="middle" textLength="36.8" lengthAdjust="spacing">0.001</text>
<text x="380.5" y="369.5" fill="#000000" font-size="14" text-anchor="middle" textLength="36.8" lengthAdjust="spacing">0.010</text>
<text x="432.5" y="369.5" fill="#000000" font-size="14" text-anchor="middle" textLength="36.8" lengthAdjust="spacing">0.100</text>
<text x="484.5" y="369.5" fill="#000000" font-size="14" text-anchor="middle" textLength="36.8" lengthAdjust="spacing">1.000</text>
<text x="536.5" y="369.5" fill="#000000" font-size="14" text-anchor="middle" textLength="44" lengthAdjust="spacing">10.000</text>
<text x="568.5" y="369.5" fill="#000000" font-size="14" text-anchor="middle">0</text>
<text x="610.1" y="369.5" fill="#000000" font-size="14" text-anchor="middle">2</text>
<text x="651.7" y="369.5" fill="#000000" font-size="14" text-anchor="middle">4</text>
<text x="693.3" y="369.5" fill="#000000" font-size="14" text-anchor="middle">6</text>
<text x="734.9" y="369.5" fill="#000000" font-size="14" text-anchor="middle">8</text>
<text x="777.5" y="369.5" fill="#000000" font-size="14" text-anchor="middle">10</text>
<text x="107.6" y="386" fill="#000000" font-size="14" text-anchor="start" textLength="30.4" lengthAdjust="spacing">Wind</text>
<text x="144.8" y="386" fill="#000000" font-size="14" text-anchor="start" textLength="40.2" lengthAdjust="spacing">Speed</text>
<text x="192.6" y="386" fill="#000000" font-size="14" text-anchor="start" textLength="24.4" lengthAdjust="spacing">(ms</text>
<text x="229.2" y="386" fill="#000000" font-size="14" text-anchor="start" textLength="6.2" lengthAdjust="spacing">)</text>
<text x="217.6" y="380" fill="#000000" font-size="9.5" text-anchor="start" textLength="11.4" lengthAdjust="spacing">−1</text>
<text x="418.8" y="385.5" fill="#000000" font-size="14" text-anchor="start" textLength="26.6" lengthAdjust="spacing">SNR</text>
<text x="620.2" y="386" fill="#000000" font-size="14" text-anchor="start" textLength="53.4" lengthAdjust="spacing">Residual</text>
<text x="680.8" y="386" fill="#000000" font-size="14" text-anchor="start" textLength="25.8" lengthAdjust="spacing">(ms</text>
<text x="718.8" y="386" fill="#000000" font-size="14" text-anchor="start" textLength="5.8" lengthAdjust="spacing">)</text>
<text x="707.2" y="380" fill="#000000" font-size="9.5" text-anchor="start" textLength="10.8" lengthAdjust="spacing">−1</text>
<text x="587.2" y="396.5" fill="#000000" font-size="10.5" text-anchor="start" textLength="17.8" lengthAdjust="spacing">Plot</text>
<text x="609.2" y="396.5" fill="#000000" font-size="10.5" text-anchor="start" textLength="35.8" lengthAdjust="spacing">created</text>
<text x="649.2" y="396.5" fill="#000000" font-size="10.5" text-anchor="start" textLength="10.8" lengthAdjust="spacing">on</text>
<text x="663.2" y="396.5" fill="#000000" font-size="10.5" text-anchor="start" textLength="17.2" lengthAdjust="spacing">Tue</text>
<text x="684.8" y="396.5" fill="#000000" font-size="10.5" text-anchor="start" textLength="16.2" lengthAdjust="spacing">Jun</text>
<text x="706.2" y="396.5" fill="#000000" font-size="10.5" text-anchor="start" textLength="11.8" lengthAdjust="spacing">13</text>
<text x="721.8" y="396.5" fill="#000000" font-size="10.5" text-anchor="start" textLength="43.2" lengthAdjust="spacing">23:50:28</text>
<text x="769.2" y="396.5" fill="#000000" font-size="10.5" text-anchor="start" textLength="22.8" lengthAdjust="spacing">2017</text>
<text x="44.2" y="351.5" fill="#000000" font-size="14" text-anchor="end" textLength="20.5" lengthAdjust="spacing">0.0</text>
<text x="44.2" y="286.5" fill="#000000" font-size="14" text-anchor="end" textLength="20.5" lengthAdjust="spacing">0.5</text>
<text x="44.2" y="216.5" fill="#000000" font-size="14" text-anchor="end" textLength="20.5" lengthAdjust="spacing">1.0</text>
<text x="44.2" y="146.5" fill="#000000" font-size="14" text-anchor="end" textLength="20.5" lengthAdjust="spacing">1.5</text>
<text x="44.2" y="80.5" fill="#000000" font-size="14" text-anchor="end" textLength="20.5" lengthAdjust="spacing">2.0</text>
<text x="14.5" y="212" fill="#000000" font-size="14" text-anchor="middle" textLength="72" lengthAdjust="spacing" transform="rotate(-90 14.5 212)">z (km AGL)</text>
</svg>
</body></html>
